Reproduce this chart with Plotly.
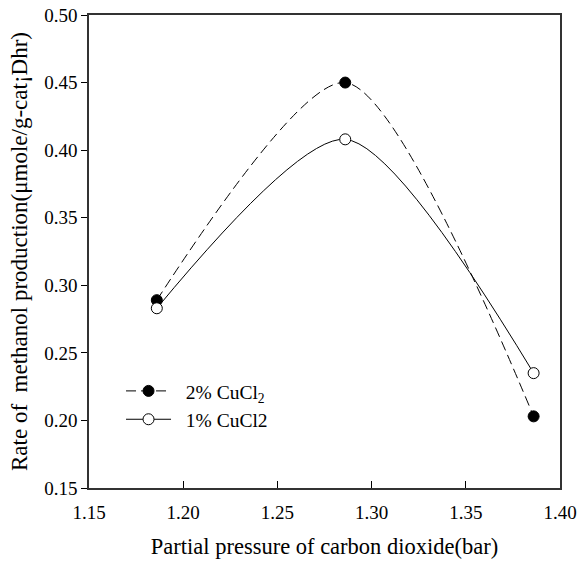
import plotly.graph_objects as go

pressure = [1.186, 1.286, 1.386]
rate_2pct = [0.289, 0.450, 0.203]
rate_1pct = [0.283, 0.408, 0.235]
series_names = ["\u00a0\u00a02% CuCl<sub>2</sub>", "\u00a0\u00a01% CuCl2"]
x_ticks = [1.15, 1.20, 1.25, 1.30, 1.35, 1.40]
y_ticks = [0.15, 0.20, 0.25, 0.30, 0.35, 0.40, 0.45, 0.50]

FONT = "Liberation Serif"

fig = go.Figure()
fig.add_trace(go.Scatter(
    x=pressure, y=rate_2pct, name=series_names[0], mode="lines+markers",
    line=dict(color="black", width=1, dash="10px,5px", shape="spline", smoothing=0.75),
    marker=dict(symbol="circle", size=11, color="black", line=dict(color="black", width=1)),
))
fig.add_trace(go.Scatter(
    x=pressure, y=rate_1pct, name=series_names[1], mode="lines+markers",
    line=dict(color="black", width=1, shape="spline", smoothing=0.75),
    marker=dict(symbol="circle", size=11, color="white", line=dict(color="black", width=1)),
))

fig.update_layout(
    width=579, height=564,
    margin=dict(l=89, r=19, t=15, b=76),
    paper_bgcolor="white", plot_bgcolor="white",
    font=dict(family=FONT, size=19, color="black"),
    showlegend=True,
    legend=dict(x=0.068, y=0.175, xanchor="left", yanchor="middle",
                bgcolor="rgba(0,0,0,0)", font=dict(family=FONT, size=19.5),
                tracegroupgap=0, itemwidth=45),
    xaxis=dict(range=[1.15, 1.40], tickvals=x_ticks,
               ticktext=[f"{v:.2f}" for v in x_ticks], automargin=False,
               ticks="inside", ticklen=7, tickcolor="black", showgrid=False, zeroline=False,
               showline=True, linecolor="#333", linewidth=1.5, mirror=True,
               tickfont=dict(size=19), ticklabelstandoff=6,
               title=dict(text="Partial pressure of carbon dioxide(bar)", font=dict(size=22.5), standoff=17)),
    yaxis=dict(range=[0.15, 0.50], tickvals=y_ticks,
               ticktext=[f"{v:.2f}" for v in y_ticks], automargin=False,
               ticks="outside", ticklen=6, tickcolor="black", showgrid=False, zeroline=False,
               showline=True, linecolor="#333", linewidth=1.5, mirror=True,
               tickfont=dict(size=19),
               title=dict(text="Rate of  methanol production(μmole/g-cat¡Dhr)", font=dict(size=23), standoff=10)),
)

fig.write_html("out.html", config={"displayModeBar": False},
               post_script="document.body.style.margin='0';")
